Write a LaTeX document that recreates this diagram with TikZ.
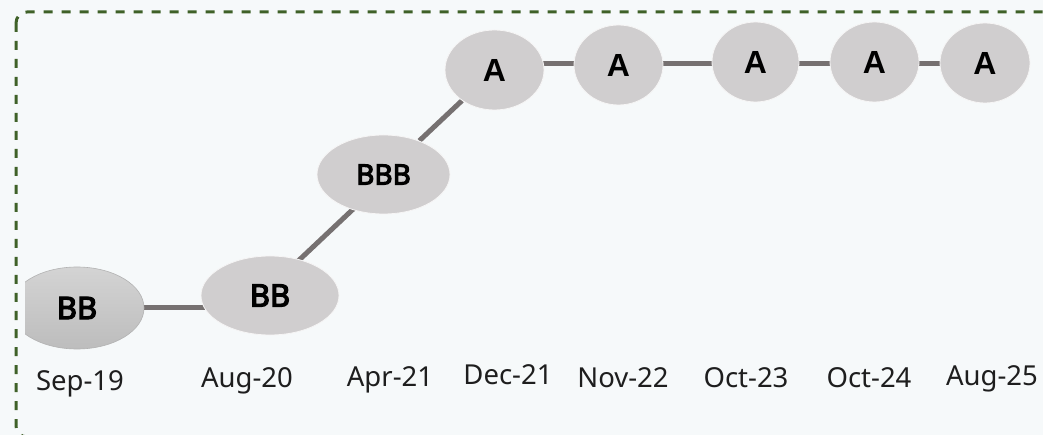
\documentclass[tikz,border=0pt]{standalone}
\usepackage{fontspec}
\setmainfont{Noto Sans}[AutoFakeBold=4]
\newfontfamily\afont{Liberation Sans}
\usetikzlibrary{shapes.geometric,backgrounds}
\definecolor{bgc}{HTML}{F6F9FA}
\definecolor{framec}{HTML}{3F6128}
\definecolor{nodec}{HTML}{D0CECF}
\definecolor{linec}{HTML}{767171}
\definecolor{labc}{HTML}{1E1E1E}
\tikzset{
  rating/.style={ellipse, fill=nodec, draw=white!80!nodec, line width=0.8pt, inner sep=0pt},
  conn/.style={draw=linec, line width=5pt},
  datelab/.style={anchor=base, text=labc, font=\fontsize{27.5}{30}\selectfont},
  abig/.style={font=\afont\bfseries\fontsize{32}{34}\selectfont},
  bbig/.style={font=\bfseries\fontsize{31}{33}\selectfont},
  bbbig/.style={font=\bfseries\fontsize{28}{30}\selectfont}
}
\begin{document}
\begin{tikzpicture}[x=1pt,y=-1pt]
\useasboundingbox (0,0) rectangle (1043,435);
\begin{scope}[on background layer]
\fill[bgc] (0,0) rectangle (1043,435);
\end{scope}
\draw[framec, line width=3pt, dash pattern=on 9pt off 9pt, rounded corners=11pt] (16,12) rectangle (1080,437);
% nodes
\begin{scope}
\clip (25,0) rectangle (1043,435);
\node[ellipse, inner sep=0pt, minimum width=134pt, minimum height=82pt, top color=black!17, bottom color=black!26, draw=black!30, line width=0.6pt, bbig] (sep) at (77,308) {BB};
\end{scope}
\node[rating, minimum width=138pt, minimum height=79pt, bbig] (aug) at (270,295.5) {BB};
\node[rating, minimum width=133pt, minimum height=79pt, bbbig] (apr) at (383.5,174.5) {BBB};
\node[rating, minimum width=99pt, minimum height=80pt, abig] (dec) at (494.5,70) {A};
\node[rating, minimum width=89pt, minimum height=80pt, abig] (nov) at (618.5,65) {A};
\node[rating, minimum width=87pt, minimum height=80pt, abig] (oct) at (755.5,62) {A};
\node[rating, minimum width=89pt, minimum height=80pt, abig] (okt) at (874.5,62) {A};
\node[rating, minimum width=90pt, minimum height=80pt, abig] (au) at (985,63) {A};
% connectors
\begin{scope}[on background layer]
\draw[conn] (sep) -- (sep -| aug);
\draw[conn] ([yshift=8pt]aug.center) -- ([yshift=-6pt]apr.center);
\draw[conn] (apr) -- (dec);
\draw[conn] ([yshift=6pt]dec.center) -- ([yshift=1pt]nov.center);
\draw[conn] ([yshift=1pt]nov.center) -- ([yshift=-2pt]oct.center);
\draw[conn] ([yshift=-2pt]oct.center) -- ([yshift=-2pt]okt.center);
\draw[conn] ([yshift=-2pt]okt.center) -- ([yshift=-1pt]au.center);
\end{scope}
% labels
\node[datelab] (l1) at (80,390) {Sep-19};
\node[datelab] (l2) at (247,387) {Aug-20};
\node[datelab] (l3) at (390,386) {Apr-21};
\node[datelab] (l4) at (508,384) {Dec-21};
\node[datelab] (l5) at (623,387) {Nov-22};
\node[datelab] (l6) at (746,387) {Oct-23};
\node[datelab] (l7) at (869,387) {Oct-24};
\node[datelab] (l8) at (992,385) {Aug-25};
\end{tikzpicture}
\end{document}
